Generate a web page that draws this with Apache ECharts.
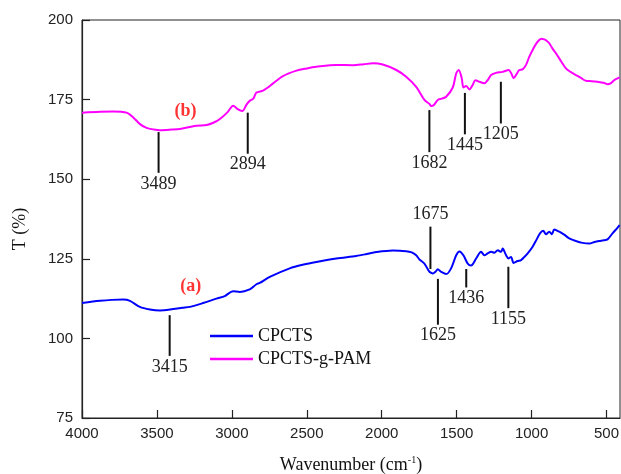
<!DOCTYPE html>
<html>
<head>
<meta charset="utf-8">
<script src="https://cdn.jsdelivr.net/npm/echarts@6/dist/echarts.min.js"></script>
<style>
  html, body { margin: 0; padding: 0; background: #fff; }
  #chart { width: 621px; height: 474px; }
</style>
</head>
<body>
<div id="chart"></div>
<script>
// FTIR spectra: wavenumber (cm^-1) vs transmittance T (%)
const seriesNames = ['CPCTS', 'CPCTS-g-PAM'];
const seriesTags = ['(a)', '(b)'];
const tagPositions = [[3274, 116.5], [3310, 171.2]];

const xTicks = [4000, 3500, 3000, 2500, 2000, 1500, 1000, 500];

// CPCTS spectrum
const cpcts = [
  [4000,111.1],[3880,111.8],[3800,112.1],[3725,112.2],[3680,111.8],[3614,109.9],[3547,109.1],
  [3480,108.8],[3392,109.2],[3330,109.6],[3280,109.9],[3192,111.1],[3103,112.5],[3047,113.3],
  [2992,114.8],[2947,114.6],[2881,115.4],[2836,117.0],[2814,117.4],[2747,119.3],[2614,122.0],
  [2520,123.2],[2436,124.0],[2303,125.1],[2170,125.9],[2100,126.5],[2037,127.1],[1926,127.6],
  [1837,127.4],[1800,127.0],[1770,126.1],[1748,124.8],[1715,123.5],[1690,121.5],[1681,120.9],
  [1659,120.4],[1640,121.0],[1626,121.7],[1603,120.9],[1570,120.2],[1537,122.0],[1503,126.1],
  [1481,127.3],[1455,126.1],[1426,123.5],[1404,122.9],[1370,125.1],[1337,127.2],[1315,126.1],
  [1293,126.7],[1270,127.2],[1248,126.9],[1226,127.7],[1204,127.2],[1193,128.2],[1170,126.1],
  [1153,125.1],[1137,125.6],[1120,123.7],[1093,124.3],[1070,124.6],[1048,125.6],[1026,126.7],
  [993,128.8],[966,131.1],[944,133.0],[922,133.8],[904,132.7],[882,133.5],[864,132.7],
  [849,134.2],[815,133.5],[780,132.5],[749,131.4],[700,130.5],[660,130.0],[615,129.8],
  [580,130.3],[549,130.6],[520,130.8],[493,131.1],[460,133.0],[426,134.8],[413,135.6]
];

// CPCTS-g-PAM spectrum
const cpctsPam = [
  [4000,170.9],[3880,171.2],[3791,171.3],[3702,170.9],[3658,169.4],[3613,167.3],[3569,166.1],
  [3520,165.6],[3480,165.4],[3400,165.6],[3346,165.8],[3290,166.3],[3235,166.8],[3168,167.0],
  [3120,167.8],[3080,168.9],[3030,171.0],[2991,173.1],[2964,172.1],[2931,171.4],[2901,173.5],
  [2881,174.6],[2857,175.3],[2836,177.2],[2792,177.8],[2760,178.8],[2725,180.1],[2659,182.4],
  [2569,184.1],[2500,184.8],[2436,185.3],[2303,185.9],[2192,185.8],[2120,186.1],[2059,186.4],
  [1993,186.0],[1903,184.3],[1837,182.2],[1770,179.0],[1715,174.9],[1681,173.6],[1670,173.0],
  [1650,173.4],[1626,174.9],[1600,175.3],[1570,175.9],[1526,178.8],[1503,183.2],[1486,184.3],
  [1466,181.7],[1455,178.8],[1437,179.3],[1415,178.2],[1393,179.6],[1375,181.1],[1348,180.6],
  [1315,180.1],[1293,181.1],[1270,182.7],[1237,183.4],[1193,183.7],[1153,184.3],[1135,183.2],
  [1120,181.7],[1100,183.0],[1082,184.3],[1060,184.5],[1037,185.9],[1015,188.5],[993,190.6],
  [970,192.5],[949,193.7],[935,194.1],[915,193.9],[900,193.5],[882,192.7],[860,191.0],
  [837,189.5],[800,186.8],[771,184.8],[740,183.7],[704,182.7],[670,181.8],[638,180.9],
  [600,180.8],[560,180.6],[520,180.3],[493,179.8],[470,180.2],[449,181.1],[430,181.6],[413,182.0]
];

// Band assignments: wavenumber, marker span in T (%), label side (1 = above)
const peakWavenumbers = [3489, 2894, 1682, 1445, 1205, 3415, 1675, 1625, 1436, 1155];
const peakTop =         [164.8, 170.9, 171.7, 177.1, 180.6, 107.3, 135.1, 118.7, 121.8, 122.5];
const peakBottom =      [152.0, 158.0, 158.5, 164.1, 167.5, 94.5, 121.8, 104.3, 116.0, 109.5];
const peakLabelAbove =  [0, 0, 0, 0, 0, 0, 1, 0, 0, 0];

const serif = '"Liberation Serif", "Times New Roman", serif';
const sans = '"Liberation Sans", Arial, sans-serif';

const chart = echarts.init(document.getElementById('chart'), null, { renderer: 'canvas' });

chart.setOption({
  animation: false,
  backgroundColor: '#fff',
  grid: {
    left: 82, right: 1, top: 20, bottom: 56,
    containLabel: false,
    outerBoundsMode: 'none',
    show: true, borderColor: '#222', borderWidth: 1, backgroundColor: 'transparent'
  },
  legend: {
    data: seriesNames.map(n => ({ name: n, icon: 'rect' })),
    orient: 'vertical',
    left: 210, top: 327,
    padding: 0,
    itemWidth: 43, itemHeight: 2.5, itemGap: 5,
    textStyle: { fontFamily: serif, fontSize: 18, color: '#111', lineHeight: 18 }
  },
  xAxis: {
    type: 'value',
    min: 410, max: 4000,
    inverse: true,
    name: 'Wavenumber (cm{sup|-1})',
    nameLocation: 'middle',
    nameGap: 37,
    nameTextStyle: {
      fontFamily: serif, fontSize: 18, color: '#111',
      rich: { sup: { fontFamily: serif, fontSize: 10, color: '#111', verticalAlign: 'top', padding: [0, 0, 10, 0] } }
    },
    axisLine: { show: true, lineStyle: { color: '#222', width: 1.2 } },
    axisTick: { show: true, inside: true, length: 8, customValues: xTicks, lineStyle: { color: '#222', width: 1.2 } },
    axisLabel: {
      customValues: xTicks, margin: 8, fontFamily: sans, fontSize: 15, color: '#222',
      formatter: v => String(v)
    },
    splitLine: { show: false }
  },
  yAxis: {
    type: 'value',
    min: 75, max: 200, interval: 25,
    name: 'T (%)',
    nameLocation: 'middle',
    nameGap: 53,
    nameTextStyle: { fontFamily: serif, fontSize: 18, color: '#111', padding: [0, 20, 0, 0] },
    axisLine: { show: true, lineStyle: { color: '#222', width: 1.2 } },
    axisTick: { show: true, inside: true, length: 8, lineStyle: { color: '#222', width: 1.2 } },
    axisLabel: { margin: 9, fontFamily: sans, fontSize: 15, color: '#222', formatter: v => String(v) },
    splitLine: { show: false }
  },
  series: [
    {
      name: seriesNames[0],
      type: 'line',
      data: cpcts,
      symbol: 'none',
      smooth: 0.3,
      lineStyle: { color: '#0000ff', width: 2 },
      itemStyle: { color: '#0000ff' },
      z: 3
    },
    {
      name: seriesNames[1],
      type: 'line',
      data: cpctsPam,
      symbol: 'none',
      smooth: 0.3,
      lineStyle: { color: '#ff00ff', width: 2 },
      itemStyle: { color: '#ff00ff' },
      z: 3
    },
    {
      name: 'bands',
      type: 'custom',
      silent: true,
      clip: false,
      data: peakWavenumbers.map((w, i) => [w, peakTop[i], peakBottom[i], peakLabelAbove[i]]),
      encode: { x: 0, y: [1, 2] },
      renderItem: function (params, api) {
        const w = api.value(0);
        const top = api.coord([w, api.value(1)]);
        const bottom = api.coord([w, api.value(2)]);
        const above = api.value(3) === 1;
        return {
          type: 'group',
          children: [
            {
              type: 'line',
              shape: { x1: top[0], y1: top[1], x2: bottom[0], y2: bottom[1] },
              style: { stroke: '#111', lineWidth: 2 }
            },
            {
              type: 'text',
              x: top[0],
              y: above ? top[1] - 3 : bottom[1] + 2,
              style: {
                text: String(w),
                font: '18px ' + serif,
                fill: '#222',
                textAlign: 'center',
                textVerticalAlign: above ? 'bottom' : 'top'
              }
            }
          ]
        };
      },
      z: 4
    },
    {
      name: 'tags',
      type: 'scatter',
      silent: true,
      symbolSize: 0,
      data: tagPositions.map((p, i) => ({ value: p, tag: seriesTags[i] })),
      label: {
        show: true,
        position: 'inside',
        formatter: function (p) { return p.data.tag; },
        fontFamily: serif, fontSize: 18, fontWeight: 'bold', color: '#ff0000'
      },
      z: 5
    }
  ]
});
</script>
</body>
</html>
